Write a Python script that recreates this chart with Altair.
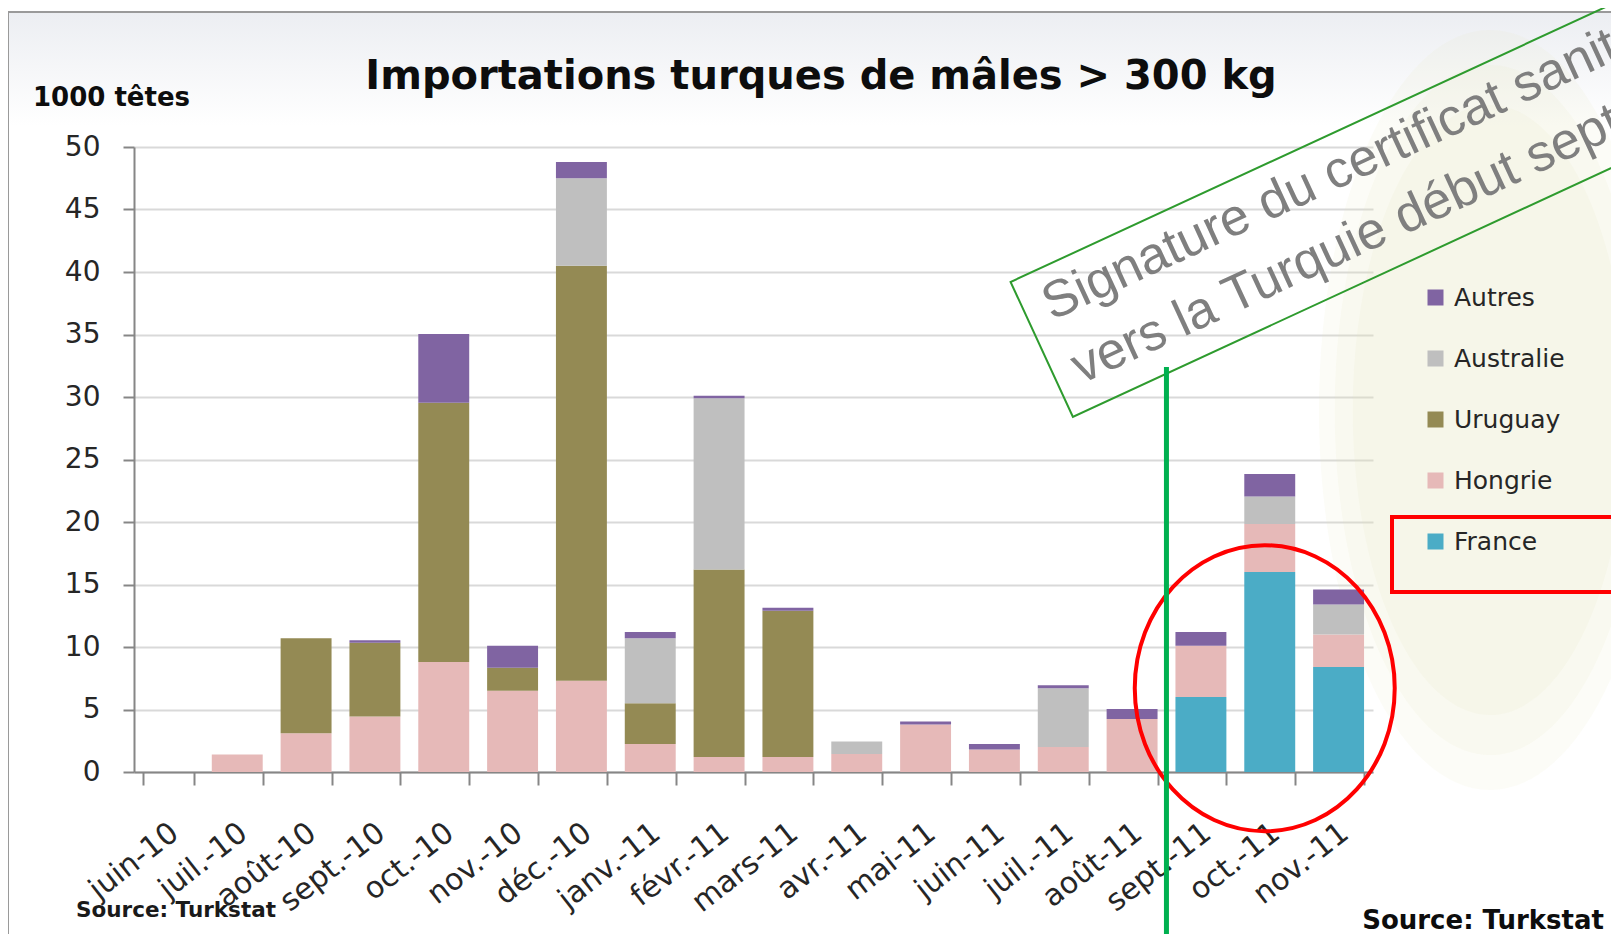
import altair as alt
import pandas as pd

# ---------------- data ----------------
months = ["juin-10", "juil.-10", "août-10", "sept.-10", "oct.-10", "nov.-10",
          "déc.-10", "janv.-11", "févr.-11", "mars-11", "avr.-11", "mai-11",
          "juin-11", "juil.-11", "août-11", "sept.-11", "oct.-11", "nov.-11"]

france    = [0, 0, 0, 0, 0, 0, 0, 0, 0, 0, 0, 0, 0, 0, 0, 6.0, 16.0, 8.4]
hongrie   = [0, 1.4, 3.1, 4.45, 8.8, 6.5, 7.3, 2.25, 1.2, 1.2, 1.45, 3.8, 1.8, 2.0, 4.25, 4.1, 3.85, 2.6]
uruguay   = [0, 0, 7.6, 5.9, 20.75, 1.85, 33.2, 3.25, 15.0, 11.7, 0, 0, 0, 0, 0, 0, 0, 0]
australie = [0, 0, 0, 0, 0, 0, 7.0, 5.2, 13.7, 0, 1.0, 0, 0, 4.7, 0, 0, 2.2, 2.4]
autres    = [0, 0, 0, 0.2, 5.5, 1.75, 1.3, 0.5, 0.2, 0.25, 0, 0.25, 0.45, 0.25, 0.8, 1.1, 1.8, 1.2]

series = ["Autres", "Australie", "Uruguay", "Hongrie", "France"]
colors = ["#8064A2", "#BFBFBF", "#948A54", "#E6B9B8", "#4BACC6"]
stack_rank = {"France": 0, "Hongrie": 1, "Uruguay": 2, "Australie": 3, "Autres": 4}

title_text = "Importations turques de mâles > 300 kg"
unit_text = "1000 têtes"
source_text = "Source: Turkstat"
note_lines = ["Signature du certificat sanitaire", "vers la Turquie début septembre"]

rows = []
for name, vals in [("France", france), ("Hongrie", hongrie), ("Uruguay", uruguay),
                   ("Australie", australie), ("Autres", autres)]:
    for m, v in zip(months, vals):
        if v > 0:
            rows.append({"mois": m, "pays": name, "val": v, "rang": stack_rank[name]})
df = pd.DataFrame(rows)

# ---------------- layout helpers ----------------
W, H = 1239, 625
PL, PT = 134, 147          # page position of plot-area origin
def px(x): return x - PL
def py(y): return y - PT

FONT = "DejaVu Sans"
dummy = pd.DataFrame({"k": [0]})

def ellipse_path(a, b):
    k = 0.5523
    return (f"M {a} 0 C {a} {k*b:.4f} {k*a:.4f} {b} 0 {b} "
            f"C {-k*a:.4f} {b} {-a} {k*b:.4f} {-a} 0 "
            f"C {-a} {-k*b:.4f} {-k*a:.4f} {-b} 0 {-b} "
            f"C {k*a:.4f} {-b} {a} {-k*b:.4f} {a} 0 Z")

xscale = alt.Scale(domain=months, paddingInner=0.26, paddingOuter=0.13)
yscale = alt.Scale(domain=[0, 50], nice=False)

xaxis = alt.Axis(title=None, tickBand="extent", domainColor="#868686", domainWidth=2,
                 tickColor="#868686", tickWidth=2, tickSize=13, labelAngle=322,
                 labelAlign="right", labelBaseline="middle", labelPadding=44,
                 labelOffset=6, labelFont=FONT, labelFontSize=30, labelColor="#262626",
                 grid=False)
yaxis = alt.Axis(title=None, values=list(range(0, 51, 5)), grid=True, gridColor="#D9D9D9",
                 gridWidth=2, domainColor="#868686", domainWidth=2, tickColor="#868686",
                 tickWidth=2, tickSize=11, labelPadding=23, labelFont=FONT,
                 labelFontSize=28, labelColor="#262626")

# ---------------- background decorations ----------------
top_grad = alt.Chart(dummy).mark_rect(
    color=alt.LinearGradient(gradient="linear",
                             stops=[alt.GradientStop(color="#eceef2", offset=0),
                                    alt.GradientStop(color="#ffffff", offset=1)],
                             x1=0, x2=0, y1=0, y2=1)
).encode(x=alt.value(px(9)), x2=alt.value(px(1619)), y=alt.value(py(13)), y2=alt.value(py(126)))

# faint tree watermark: stacked soft ellipses
tree_layers = []
for sz, op in [(760, 0.12), (690, 0.12), (610, 0.12)]:
    tree_layers.append(alt.Chart(dummy).mark_point(
        shape=ellipse_path(0.45, 1), filled=True, color="#e6eabf", opacity=op, size=sz ** 2
    ).encode(x=alt.value(px(1490)), y=alt.value(py(410))))

frame = alt.Chart(dummy).mark_rect(fillOpacity=0, stroke="#9a9a9a", strokeWidth=2).encode(
    x=alt.value(px(8)), x2=alt.value(px(2000)), y=alt.value(py(12)), y2=alt.value(py(2000)))

# ---------------- bars ----------------
bars = alt.Chart(df).mark_bar(opacity=1).encode(
    x=alt.X("mois:N", scale=xscale, axis=xaxis),
    y=alt.Y("val:Q", stack="zero", scale=yscale, axis=yaxis),
    color=alt.Color("pays:N", scale=alt.Scale(domain=series, range=colors),
                    legend=alt.Legend(orient="none", legendX=px(1423), legendY=py(285),
                                      title=None, symbolType="square", symbolSize=256,
                                      symbolStrokeWidth=0, symbolOpacity=1,
                                      labelFont=FONT, labelFontSize=25, labelColor="#262626",
                                      rowPadding=35, labelOffset=6, padding=0)),
    order=alt.Order("rang:Q", sort="ascending"),
)

# ---------------- annotations ----------------
title = alt.Chart(dummy).mark_text(
    text=title_text, font=FONT, fontWeight="bold", fontSize=40, color="#0d0d0d",
    align="center", baseline="alphabetic"
).encode(x=alt.value(px(821)), y=alt.value(py(89)))

unit = alt.Chart(dummy).mark_text(
    text=unit_text, font=FONT, fontWeight="bold", fontSize=26, color="#0d0d0d",
    align="left", baseline="alphabetic"
).encode(x=alt.value(px(33)), y=alt.value(py(106)))

src_left = alt.Chart(dummy).mark_text(
    text=source_text, font=FONT, fontWeight="bold", fontSize=21.5, color="#1a1a1a",
    align="left", baseline="alphabetic"
).encode(x=alt.value(px(76)), y=alt.value(py(917)))

src_right = alt.Chart(dummy).mark_text(
    text=source_text, font=FONT, fontWeight="bold", fontSize=26, color="#0d0d0d",
    align="right", baseline="alphabetic"
).encode(x=alt.value(px(1604)), y=alt.value(py(929)))

sep_df = pd.DataFrame({"mois": ["sept.-11"]})
green_line = alt.Chart(sep_df).mark_rule(color="#00B050", strokeWidth=5, xOffset=-9).encode(
    x=alt.X("mois:N", bandPosition=0, scale=xscale, axis=xaxis),
    y=alt.value(py(367)), y2=alt.value(py(960)))

ell_df = pd.DataFrame({"mois": ["oct.-11"], "val": [6.7]})
ellipse = alt.Chart(ell_df).mark_point(
    shape=ellipse_path(0.909, 1), filled=False, color="#FF0000", strokeWidth=4,
    size=286 ** 2, opacity=1, xOffset=-5
).encode(x=alt.X("mois:N", scale=xscale, axis=xaxis),
         y=alt.Y("val:Q", scale=yscale, axis=yaxis))

legend_box = alt.Chart(dummy).mark_rect(fillOpacity=0, stroke="#FF0000", strokeWidth=4).encode(
    x=alt.value(px(1392)), x2=alt.value(px(1700)), y=alt.value(py(517)), y2=alt.value(py(592)))

note_box = alt.Chart(dummy).mark_point(
    shape="M -1 -0.1955 L 1 -0.1955 L 1 0.1955 L -1 0.1955 Z", filled=False,
    color="#2E9B2E", strokeWidth=2, size=760 ** 2, angle=335.2, opacity=1
).encode(x=alt.value(px(1386.7)), y=alt.value(py(190)))

note_text = alt.Chart(dummy).mark_text(
    text=note_lines, font="Liberation Sans", fontSize=52, color="#7f7f7f",
    align="left", baseline="alphabetic", angle=335.2, lineHeight=69.6
).encode(x=alt.value(px(1052)), y=alt.value(py(321)))

chart = alt.layer(
    top_grad, *tree_layers, frame, bars, ellipse, legend_box, note_box, note_text,
    green_line, title, unit, src_left, src_right
).properties(
    width=W, height=H,
    autosize=alt.AutoSizeParams(type="none"),
    padding={"left": 126, "top": 139, "right": 1603 - 126 - W, "bottom": 926 - 139 - H},
    background="white",
).configure_view(stroke=None)

chart.save("out.html", embed_options={"renderer": "svg", "actions": False})
